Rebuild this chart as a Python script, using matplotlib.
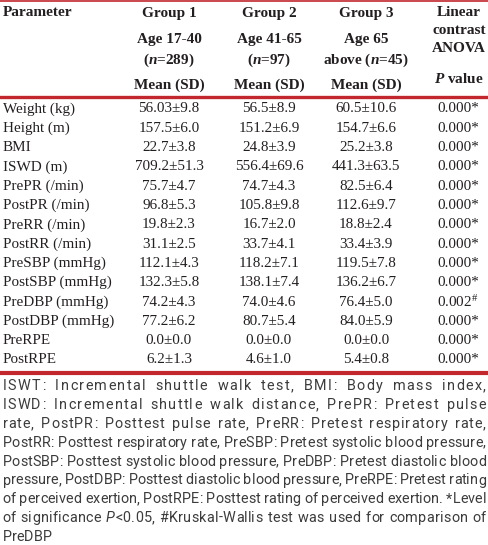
import matplotlib
matplotlib.use("Agg")
import matplotlib.pyplot as plt
from matplotlib.font_manager import FontProperties, findfont, get_font

# table body
params = ["Weight (kg)", "Height (m)", "BMI", "ISWD (m)", "PrePR (/min)",
          "PostPR (/min)", "PreRR (/min)", "PostRR (/min)", "PreSBP (mmHg)",
          "PostSBP (mmHg)", "PreDBP (mmHg)", "PostDBP (mmHg)", "PreRPE", "PostRPE"]
group1 = ["56.03±9.8", "157.5±6.0", "22.7±3.8", "709.2±51.3", "75.7±4.7",
          "96.8±5.3", "19.8±2.3", "31.1±2.5", "112.1±4.3", "132.3±5.8",
          "74.2±4.3", "77.2±6.2", "0.0±0.0", "6.2±1.3"]
group2 = ["56.5±8.9", "151.2±6.9", "24.8±3.9", "556.4±69.6", "74.7±4.3",
          "105.8±9.8", "16.7±2.0", "33.7±4.1", "118.2±7.1", "138.1±7.4",
          "74.0±4.6", "80.7±5.4", "0.0±0.0", "4.6±1.0"]
group3 = ["60.5±10.6", "154.7±6.6", "25.2±3.8", "441.3±63.5", "82.5±6.4",
          "112.6±9.7", "18.8±2.4", "33.4±3.9", "119.5±7.8", "136.2±6.7",
          "76.4±5.0", "84.0±5.9", "0.0±0.0", "5.4±0.8"]
pvals = ["0.000*", "0.000*", "0.000*", "0.000*", "0.000*", "0.000*", "0.000*",
         "0.000*", "0.000*", "0.000*", "0.002$^{\\#}$", "0.000*", "0.000*", "0.000*"]

# header cells (column -> stacked lines)
head_param = ["Parameter"]
head_g1 = ["Group 1", "Age 17-40", "($\\mathit{n}$=289)", "Mean (SD)"]
head_g2 = ["Group 2", "Age 41-65", "($\\mathit{n}$=97)", "Mean (SD)"]
head_g3 = ["Group 3", "Age 65", "above ($\\mathit{n}$=45)", "Mean (SD)"]
head_p = ["Linear", "contrast", "ANOVA", "$\\mathit{P}$ value"]

footnote = [
    "ISWT: Incremental shuttle walk test, BMI: Body mass index,",
    "ISWD: Incremental shuttle walk distance, PrePR: Pretest pulse",
    "rate, PostPR: Posttest pulse rate, PreRR: Pretest respiratory rate,",
    "PostRR: Posttest respiratory rate, PreSBP: Pretest systolic blood pressure,",
    "PostSBP: Posttest systolic blood pressure, PreDBP: Pretest diastolic blood",
    "pressure, PostDBP: Posttest diastolic blood pressure, PreRPE: Pretest rating",
    "of perceived exertion, PostRPE: Posttest rating of perceived exertion. *Level",
    "of significance P<0.05, #Kruskal-Wallis test was used for comparison of",
    "PreDBP",
]

RED = "#C1272D"
INK = "#231F20"
FOOT = "#3C3C3C"
SERIF = "Liberation Serif"
SANS = "Roboto"

plt.rcParams.update({
    "mathtext.fontset": "custom",
    "mathtext.rm": "Liberation Serif",
    "mathtext.it": "Liberation Serif:italic:bold",
    "mathtext.bf": "Liberation Serif:bold",
})

fig = plt.figure(figsize=(4.88, 5.45), dpi=100)
ax = fig.add_axes([0, 0, 1, 1])
ax.set_xlim(0, 488)
ax.set_ylim(545, 0)
ax.axis("off")

# rules
ax.axhline(1.0, color=RED, lw=1.2)
ax.axhline(96.5, color=RED, lw=2.4)
ax.axhline(373, color=RED, lw=3.0)

# header
col_x = [169, 269, 366, 459]
head_y = [13, 40, 60, 85]
p_y = [13, 31, 49, 79]
hkw = dict(family=SERIF, fontweight="bold", fontsize=11, color=INK,
           va="center", ha="center")
ax.text(3, 13, head_param[0], **{**hkw, "ha": "left"})
for cx, lines in zip(col_x[:3], [head_g1, head_g2, head_g3]):
    for yy, s in zip(head_y, lines):
        ax.text(cx, yy, s, **hkw)
for yy, s in zip(p_y, head_p):
    ax.text(col_x[3], yy, s, **hkw)

# body
bkw = dict(family=SERIF, fontsize=10.9, color=INK, va="center")
y0, dy = 109, 19.3
for i, name in enumerate(params):
    yy = y0 + i * dy
    ax.text(3, yy, name, ha="left", **bkw)
    ax.text(col_x[0], yy, group1[i], ha="center", **bkw)
    ax.text(col_x[1], yy, group2[i], ha="center", **bkw)
    ax.text(col_x[2], yy, group3[i], ha="center", **bkw)
    ax.text(col_x[3] - 1, yy, pvals[i], ha="center", **bkw)

# footnote: justified like the journal layout (word + letter spacing)
x_left, x_right = 2.5, 486
f_y0, f_dy = 386, 18.9
W = x_right - x_left


def advance(ch, style, fs):
    font = get_font(findfont(FontProperties(family=SANS, style=style)))
    font.set_size(fs, 100)
    return font.load_char(ord(ch)).linearHoriAdvance / 65536


def segments(w):
    if w.startswith("P<"):
        return [("P", "italic"), (w[1:], "normal")]
    return [(w, "normal")]


def nat_width(words, fs):
    return sum(advance(c, st, fs) for w in words for s, st in segments(w) for c in s)


# font size: the tightest line gets a normal space between words
fs = 10.4
need = max(nat_width(l.split(), fs) + 0.25 * fs * 100 / 72 * (len(l.split()) - 1)
           for l in footnote[:-1])
if need > W:
    fs *= W / need
space = 0.25 * fs * 100 / 72

for k, line in enumerate(footnote):
    words = line.split()
    yy = f_y0 + k * f_dy
    nat = nat_width(words, fs)
    n_char_gaps = sum(len(w) - 1 for w in words)
    n_gaps = len(words) - 1
    if k < len(footnote) - 1:
        extra = max(W - nat - space * n_gaps, 0)
        cs = min(extra / (n_char_gaps + 4 * n_gaps), 1.4)
        gap = (W - nat - cs * n_char_gaps) / n_gaps
    else:
        cs, gap = 0.0, space
    x = x_left
    for w in words:
        for s, st in segments(w):
            for ch in s:
                ax.text(x, yy, ch, family=SANS, fontsize=fs, style=st,
                        color=FOOT, va="center", ha="left")
                x += advance(ch, st, fs) + cs
        x += gap - cs

fig.savefig("out.png", dpi=100, facecolor="white")
